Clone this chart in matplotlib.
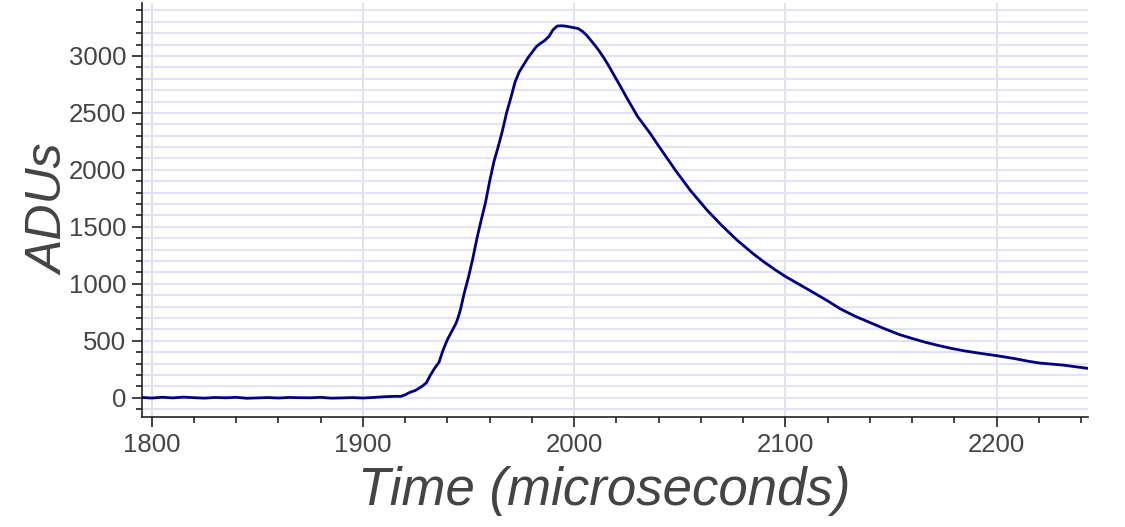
import matplotlib
matplotlib.use("Agg")
import matplotlib.pyplot as plt
from matplotlib.ticker import MultipleLocator

time_us = [1795, 1800, 1805, 1810, 1815, 1820, 1825, 1830, 1835, 1840, 1845, 1850,
           1855, 1860, 1865, 1870, 1875, 1880, 1885, 1890, 1895, 1900, 1905, 1910,
           1915, 1918, 1920, 1922, 1925, 1928, 1930, 1932, 1934, 1936, 1938, 1940,
           1942, 1944, 1945, 1946, 1948, 1950, 1952, 1954, 1956, 1958, 1960, 1962,
           1964, 1966, 1968, 1970, 1972, 1974, 1976, 1978, 1980, 1982, 1984, 1986,
           1988, 1990, 1992, 1994, 1996, 1998, 2000, 2002, 2004, 2006, 2008, 2010,
           2012, 2014, 2016, 2018, 2020, 2022, 2025, 2030, 2036, 2040, 2048, 2055,
           2063, 2070, 2077, 2085, 2090, 2095, 2100, 2107, 2113, 2120, 2126, 2133,
           2140, 2147, 2154, 2160, 2166, 2172, 2178, 2185, 2192, 2200, 2208, 2215,
           2220, 2226, 2232, 2238, 2243]
adus = [2, -3, 4, -2, 5, 0, -4, 2, -1, 3, -5, -2,
        1, -3, 2, 0, -1, 3, -4, -2, 1, -3, 2, 8,
        12, 12, 25, 45, 65, 100, 130, 200, 260, 310, 420, 510,
        580, 650, 700, 760, 920, 1060, 1220, 1400, 1560, 1710, 1900, 2070,
        2200, 2340, 2500, 2630, 2770, 2860, 2920, 2980, 3030, 3080, 3110, 3135,
        3170, 3230, 3263, 3265, 3262, 3255, 3248, 3240, 3215, 3180, 3135, 3090,
        3040, 2985, 2925, 2860, 2795, 2730, 2630, 2470, 2320, 2210, 1995, 1820,
        1645, 1510, 1385, 1260, 1190, 1125, 1064, 990, 926, 850, 780, 715,
        660, 605, 554, 520, 488, 460, 435, 410, 390, 369, 345, 320,
        305, 295, 285, 270, 258]

x_label = "Time (microseconds)"
y_label = "ADUs"

plt.rcParams['font.family'] = ['Liberation Sans', 'DejaVu Sans']

fig = plt.figure(figsize=(11.25, 5.27), dpi=100)
ax = fig.add_axes([0.126, 0.2082, 0.9668 - 0.126, 0.9943 - 0.2082])

ax.plot(time_us, adus, color='#000080', lw=2.0, zorder=3)

ax.set_xlim(1795.3, 2243.1)
ax.set_ylim(-172, 3465)

ax.xaxis.set_major_locator(MultipleLocator(100))
ax.xaxis.set_minor_locator(MultipleLocator(20))
ax.yaxis.set_major_locator(MultipleLocator(500))
ax.yaxis.set_minor_locator(MultipleLocator(100))

ax.grid(False)
ax.grid(True, which='major', axis='x', color='#dcdce4', lw=1.2, zorder=0)
ax.grid(True, which='both', axis='y', color='#e3e3f7', lw=1.5, zorder=0)

for s in ['top', 'right']:
    ax.spines[s].set_visible(False)
for s in ['left', 'bottom']:
    ax.spines[s].set_color('#222222')
    ax.spines[s].set_linewidth(1.2)

ax.tick_params(which='major', direction='out', length=7, width=1.2,
               color='#222222', labelcolor='#444444', labelsize=18.5, pad=4)
ax.tick_params(which='minor', direction='out', length=4, width=1.2, color='#222222')

ax.set_xlabel(x_label, fontsize=38, style='italic', color='#444444', labelpad=7)
ax.xaxis.label.set_x(0.489)
ax.set_ylabel(y_label, fontsize=36, style='italic', color='#444444', labelpad=-3)

fig.savefig("out.png", dpi=100)
